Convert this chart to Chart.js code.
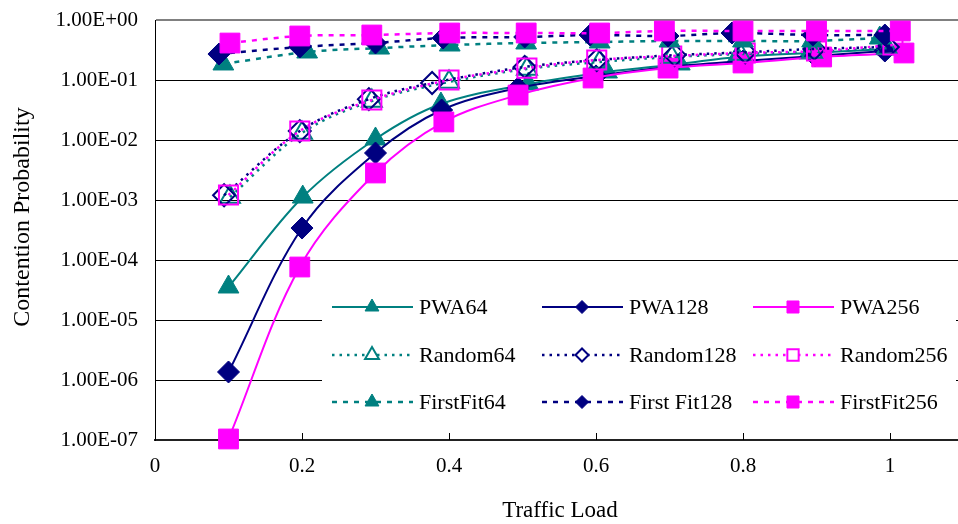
<!DOCTYPE html>
<html>
<head>
<meta charset="utf-8">
<title>Contention Probability vs Traffic Load</title>
<script src="https://cdn.jsdelivr.net/npm/chart.js@4.4.0/dist/chart.umd.min.js"></script>
<style>
  html, body { margin: 0; padding: 0; background: #fff; overflow: hidden; }
  #wrap { position: relative; width: 958px; height: 524px; }
</style>
</head>
<body>
<div id="wrap"><canvas id="chart" width="958" height="524"></canvas></div>
<script>
// ---- Axis ticks ----
const xTickValues = [0, 0.2, 0.4, 0.6, 0.8, 1];
const yTickValues = [1e-7, 1e-6, 1e-5, 1e-4, 1e-3, 1e-2, 1e-1, 1];
const yTickLabels = ['1.00E-07', '1.00E-06', '1.00E-05', '1.00E-04', '1.00E-03', '1.00E-02', '1.00E-01', '1.00E+00'];

// ---- PWA ----
const pwa64Load  = [0.100, 0.201, 0.300, 0.389, 0.508, 0.615, 0.714, 0.792, 0.890, 0.997];
const pwa64      = [3.55e-5, 1.12e-3, 1.04e-2, 3.98e-2, 8.58e-2, 0.136, 0.185, 0.242, 0.282, 0.328];
const pwa128Load = [0.100, 0.200, 0.300, 0.390, 0.494, 0.600, 0.700, 0.800, 0.898, 0.993];
const pwa128     = [1.36e-6, 3.41e-4, 6.07e-3, 3.16e-2, 7.36e-2, 0.117, 0.165, 0.207, 0.251, 0.304];
const pwa256Load = [0.100, 0.197, 0.300, 0.393, 0.494, 0.596, 0.698, 0.800, 0.907, 1.019];
const pwa256     = [1.04e-7, 7.64e-5, 2.82e-3, 2.00e-2, 5.62e-2, 0.108, 0.158, 0.192, 0.242, 0.282];

// ---- Random ----
const random64Load  = [0.102, 0.200, 0.295, 0.400, 0.506, 0.605, 0.703, 0.796, 0.894, 0.996];
const random64      = [1.12e-3, 1.31e-2, 4.47e-2, 9.26e-2, 0.153, 0.200, 0.242, 0.270, 0.293, 0.340];
const random128Load = [0.094, 0.197, 0.291, 0.377, 0.503, 0.601, 0.707, 0.803, 0.897, 0.997];
const random128     = [1.20e-3, 1.41e-2, 4.80e-2, 8.90e-2, 0.165, 0.215, 0.260, 0.290, 0.330, 0.355];
const random256Load = [0.100, 0.197, 0.295, 0.400, 0.506, 0.601, 0.703, 0.803, 0.900, 1.004];
const random256     = [1.21e-3, 1.41e-2, 4.64e-2, 0.100, 0.158, 0.215, 0.251, 0.282, 0.304, 0.383];

// ---- First Fit ----
const firstFit64Load  = [0.093, 0.207, 0.305, 0.401, 0.505, 0.605, 0.700, 0.800, 0.894, 0.986];
const firstFit64      = [0.185, 0.293, 0.341, 0.383, 0.414, 0.430, 0.447, 0.447, 0.447, 0.501];
const firstFit128Load = [0.087, 0.197, 0.300, 0.392, 0.503, 0.592, 0.698, 0.785, 0.895, 0.993];
const firstFit128     = [0.271, 0.355, 0.414, 0.501, 0.521, 0.562, 0.541, 0.607, 0.562, 0.562];
const firstFit256Load = [0.102, 0.197, 0.295, 0.401, 0.505, 0.605, 0.693, 0.800, 0.900, 1.014];
const firstFit256     = [0.413, 0.541, 0.562, 0.607, 0.607, 0.607, 0.656, 0.656, 0.656, 0.656];

const TEAL = '#008080', NAVY = '#000080', MAGENTA = '#FF00FF';
const SERIF = '"Liberation Serif", "Times New Roman", serif';

function points(xs, ys) {
  return xs.map((x, i) => ({ x: x, y: ys[i] }));
}

// line kind: solid / dotted / dashed ; marker: filled / open
function series(label, xs, ys, color, pointStyle, kind, filled, radius, legendRadius) {
  const dash = kind === 'dotted' ? [2.5, 5] : kind === 'dashed' ? [5, 6] : [];
  return {
    label: label,
    data: points(xs, ys),
    borderColor: color,
    backgroundColor: color,
    borderWidth: kind === 'solid' ? 2 : 2.5,
    borderDash: dash,
    tension: 0.35,
    fill: false,
    clip: false,
    pointStyle: pointStyle,
    pointRadius: radius,
    pointHoverRadius: radius,
    pointBackgroundColor: filled ? color : 'rgba(0,0,0,0)',
    pointBorderColor: color,
    pointBorderWidth: filled ? 1 : 2,
    legendRadius: legendRadius,
    legendFilled: filled
  };
}

const datasets = [
  series('PWA64',        pwa64Load,       pwa64,       TEAL,    'triangle', 'solid',  true,  12,   8),
  series('PWA128',       pwa128Load,      pwa128,      NAVY,    'rectRot',  'solid',  true,  11,   6.5),
  series('PWA256',       pwa256Load,      pwa256,      MAGENTA, 'rect',     'solid',  true,  14,   8.5),
  series('Random64',     random64Load,    random64,    TEAL,    'triangle', 'dotted', false, 11.5, 8),
  series('Random128',    random128Load,   random128,   NAVY,    'rectRot',  'dotted', false, 11,   6.5),
  series('Random256',    random256Load,   random256,   MAGENTA, 'rect',     'dotted', false, 13.5, 8),
  series('FirstFit64',   firstFit64Load,  firstFit64,  TEAL,    'triangle', 'dashed', true,  12,   8),
  series('First Fit128', firstFit128Load, firstFit128, NAVY,    'rectRot',  'dashed', true,  11,   6.5),
  series('FirstFit256',  firstFit256Load, firstFit256, MAGENTA, 'rect',     'dashed', true,  14,   8.5)
];
// later series are painted on top
datasets.forEach((d, i) => { d.order = datasets.length - i; });

// small inward tick marks on the load axis
const innerTicks = {
  id: 'innerTicks',
  beforeDatasetsDraw(chart) {
    const ctx = chart.ctx, xs = chart.scales.x, bottom = chart.chartArea.bottom;
    ctx.save();
    ctx.strokeStyle = '#000';
    ctx.lineWidth = 1;
    xTickValues.forEach(v => {
      if (v === 0) return;
      const px = Math.round(xs.getPixelForValue(v)) + 0.5;
      ctx.beginPath();
      ctx.moveTo(px, bottom);
      ctx.lineTo(px, bottom - 7);
      ctx.stroke();
    });
    ctx.restore();
  }
};

// legend table inside the plot, plus axis titles
const boxLegend = {
  id: 'boxLegend',
  afterDraw(chart) {
    const ctx = chart.ctx;
    const colX = [332, 542, 753];
    const rowY = [307, 355, 402];
    ctx.save();
    ctx.fillStyle = '#fff';
    ctx.fillRect(322, 280, 634, 148);
    chart.data.datasets.forEach((d, i) => {
      const x0 = colX[i % 3], y = rowY[Math.floor(i / 3)];
      ctx.strokeStyle = d.borderColor;
      ctx.lineWidth = d.borderWidth;
      ctx.setLineDash(d.borderDash);
      ctx.beginPath();
      ctx.moveTo(x0, y);
      ctx.lineTo(x0 + 81, y);
      ctx.stroke();
      ctx.setLineDash([]);
      ctx.fillStyle = d.legendFilled ? d.pointBorderColor : '#fff';
      ctx.strokeStyle = d.pointBorderColor;
      ctx.lineWidth = d.pointBorderWidth;
      Chart.helpers.drawPoint(ctx, {
        pointStyle: d.pointStyle, radius: d.legendRadius, rotation: 0, borderWidth: d.pointBorderWidth
      }, x0 + 40, y);
      ctx.fillStyle = '#000';
      ctx.font = '22px ' + SERIF;
      ctx.textAlign = 'left';
      ctx.textBaseline = 'middle';
      ctx.fillText(d.label, x0 + 87, y + 1);
    });

    ctx.fillStyle = '#000';
    ctx.font = '24px ' + SERIF;
    ctx.textAlign = 'center';
    ctx.textBaseline = 'middle';
    ctx.save();
    ctx.translate(23, 217);
    ctx.rotate(-Math.PI / 2);
    ctx.fillText('Contention Probability', 0, 0);
    ctx.restore();
    ctx.font = '23px ' + SERIF;
    ctx.fillText('Traffic Load', 560, 511);
    ctx.restore();
  }
};

Chart.defaults.color = '#000';
Chart.defaults.font.family = SERIF;

new Chart(document.getElementById('chart'), {
  type: 'line',
  data: { datasets: datasets },
  options: {
    responsive: false,
    devicePixelRatio: 1,
    animation: false,
    events: [],
    layout: { autoPadding: false, padding: { top: 20, left: 0, right: 0, bottom: 0 } },
    plugins: { legend: { display: false }, tooltip: { enabled: false } },
    scales: {
      x: {
        type: 'linear',
        min: 0,
        max: 1.0925,
        grid: { display: false, drawTicks: false },
        border: { display: true, color: '#222', width: 2 },
        afterBuildTicks: s => { s.ticks = xTickValues.map(v => ({ value: v })); },
        afterFit: s => { s.height = 84; s.paddingLeft = 0; s.paddingRight = 0; },
        ticks: {
          autoSkip: false,
          maxRotation: 0,
          padding: 14,
          font: { size: 21, family: SERIF },
          callback: v => String(v)
        }
      },
      y: {
        type: 'logarithmic',
        min: 1e-7,
        max: 1,
        grid: {
          drawTicks: false,
          color: c => (c.tick && c.tick.value === 1) ? '#808080' : '#000',
          lineWidth: c => (c.tick && c.tick.value === 1) ? 2 : 1
        },
        border: { display: true, color: '#000', width: 1 },
        afterBuildTicks: s => { s.ticks = yTickValues.map(v => ({ value: v })); },
        afterFit: s => { s.width = 155; s.paddingTop = 0; s.paddingBottom = 0; },
        ticks: {
          autoSkip: false,
          padding: 17,
          font: { size: 21, family: SERIF },
          callback: v => {
            const idx = yTickValues.findIndex(t => Math.abs(Math.log10(t) - Math.log10(v)) < 1e-6);
            return idx >= 0 ? yTickLabels[idx] : '';
          }
        }
      }
    }
  },
  plugins: [innerTicks, boxLegend]
});
</script>
</body>
</html>
